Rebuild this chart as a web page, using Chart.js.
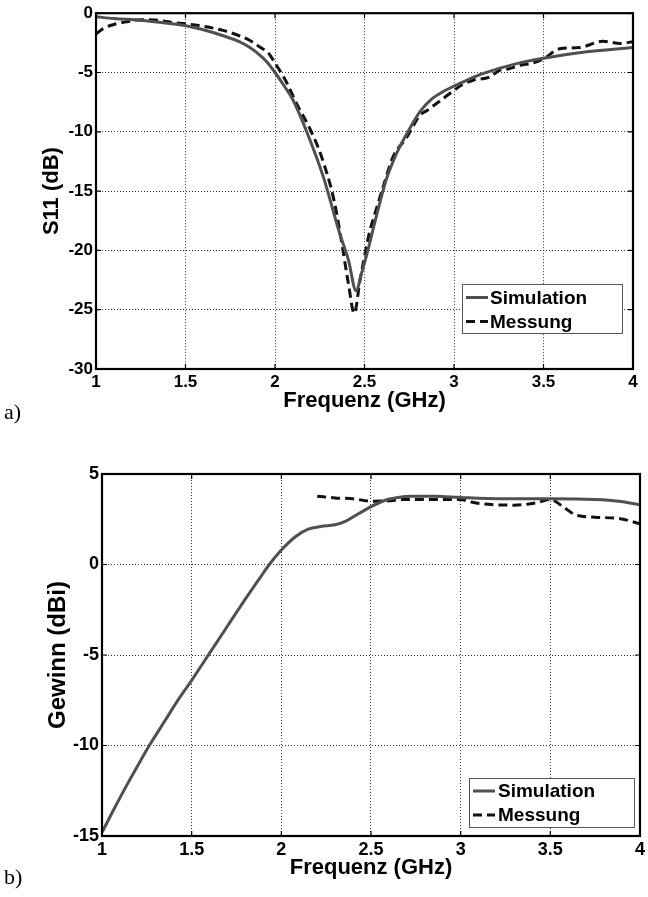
<!DOCTYPE html>
<html><head><meta charset="utf-8">
<script src="https://cdn.jsdelivr.net/npm/chart.js@4/dist/chart.umd.min.js"></script>
<style>
html,body{margin:0;padding:0;background:#fff;width:648px;height:897px;overflow:hidden;}
.wrap{position:absolute;left:0;}
.lbl{position:absolute;left:4px;font-family:"Liberation Serif","Times New Roman",serif;font-size:22px;line-height:22px;color:#000;}
</style></head><body>
<div class="wrap" style="top:0;width:648px;height:420px"><canvas id="c1" width="648" height="420"></canvas></div>
<div class="wrap" style="top:440px;width:648px;height:457px"><canvas id="c2" width="648" height="457"></canvas></div>
<div class="lbl" style="top:401px">a)</div>
<div class="lbl" style="top:866px">b)</div>
<script>
// ---- Data: panel a) S11 ----
const s11SimFreq = [1.0,1.1,1.25,1.4,1.5,1.6,1.71,1.8,1.86,1.92,1.96,2.0,2.05,2.1,2.18,2.27,2.36,2.41,2.453,2.484,2.51,2.57,2.62,2.68,2.75,2.81,2.87,2.94,3.0,3.08,3.16,3.35,3.5,3.72,4.0];
const s11Sim     = [-0.3,-0.45,-0.6,-0.85,-1.05,-1.4,-1.9,-2.4,-2.9,-3.6,-4.2,-5.0,-6.1,-7.3,-10.1,-13.8,-18.5,-20.8,-23.4,-21.9,-20.5,-16.9,-14.1,-11.8,-9.8,-8.3,-7.3,-6.6,-6.15,-5.6,-5.1,-4.25,-3.8,-3.3,-2.9];
const s11MeasFreq = [1.0,1.04,1.1,1.18,1.25,1.35,1.43,1.5,1.6,1.71,1.8,1.86,1.92,1.96,2.0,2.06,2.12,2.2,2.26,2.33,2.37,2.41,2.443,2.475,2.503,2.53,2.54,2.605,2.66,2.735,2.81,2.85,2.885,2.93,3.0,3.05,3.107,3.2,3.257,3.3,3.37,3.44,3.5,3.59,3.7,3.83,3.93,4.0];
const s11Meas     = [-1.75,-1.3,-0.95,-0.7,-0.55,-0.6,-0.8,-0.9,-1.1,-1.45,-1.9,-2.3,-2.9,-3.3,-4.2,-5.7,-7.6,-9.9,-12.1,-15.8,-19.1,-22.8,-25.3,-22.5,-20.3,-18.3,-17.8,-14.6,-12.1,-10.5,-8.6,-8.2,-7.8,-7.3,-6.5,-6.0,-5.65,-5.37,-4.8,-4.7,-4.4,-4.2,-3.85,-3.0,-2.9,-2.37,-2.55,-2.4];
// ---- Data: panel b) Gain ----
const gainSimFreq = [1.0,1.07,1.146,1.2,1.267,1.35,1.42,1.5,1.6,1.7,1.8,1.88,1.933,2.0,2.08,2.15,2.22,2.3,2.36,2.43,2.5,2.58,2.65,2.72,2.86,3.0,3.23,3.5,3.75,3.88,4.0];
const gainSim     = [-14.8,-13.45,-12.05,-11.1,-9.95,-8.65,-7.55,-6.4,-4.9,-3.4,-1.9,-0.75,0.0,0.8,1.55,1.95,2.1,2.2,2.4,2.8,3.2,3.55,3.7,3.77,3.77,3.7,3.63,3.63,3.59,3.5,3.3];
const gainMeasFreq = [2.2,2.3,2.4,2.5,2.6,2.67,2.86,3.0,3.06,3.12,3.3,3.42,3.5,3.57,3.637,3.75,3.88,4.0];
const gainMeas     = [3.77,3.68,3.63,3.5,3.52,3.59,3.59,3.59,3.45,3.35,3.28,3.4,3.59,3.2,2.76,2.61,2.55,2.25];
// ---- Ticks / labels ----
const xTicks = [1,1.5,2,2.5,3,3.5,4];
const xTickLabels = ['1','1.5','2','2.5','3','3.5','4'];
const s11Ticks = [-30,-25,-20,-15,-10,-5,0];
const s11TickLabels = ['-30','-25','-20','-15','-10','-5','0'];
const gainTicks = [-15,-10,-5,0,5];
const gainTickLabels = ['-15','-10','-5','0','5'];
const seriesNames = ['Simulation','Messung'];
const xTitle = 'Frequenz (GHz)';
const s11Title = 'S11 (dB)';
const gainTitle = 'Gewinn (dBi)';

const toPts = (xs, ys) => xs.map((x,i)=>({x, y: ys[i]}));
const FONT = '"Liberation Sans", Arial, sans-serif';

const framePlugin = {
  id: 'frame',
  afterDatasetsDraw(chart) {
    const {ctx, chartArea: a, scales} = chart;
    ctx.save();
    ctx.strokeStyle = '#000'; ctx.lineWidth = 1.2; ctx.setLineDash([]);
    ctx.beginPath();
    scales.x.ticks.forEach(t => {
      const px = scales.x.getPixelForValue(t.value);
      ctx.moveTo(px, a.bottom); ctx.lineTo(px, a.bottom - 5);
      ctx.moveTo(px, a.top); ctx.lineTo(px, a.top + 5);
    });
    scales.y.ticks.forEach(t => {
      const py = scales.y.getPixelForValue(t.value);
      ctx.moveTo(a.left, py); ctx.lineTo(a.left + 5, py);
      ctx.moveTo(a.right, py); ctx.lineTo(a.right - 5, py);
    });
    ctx.stroke();
    ctx.lineWidth = 2.2;
    ctx.strokeRect(a.left, a.top, a.right - a.left, a.bottom - a.top);
    ctx.restore();
  }
};

const boxLegend = {
  id: 'boxLegend',
  afterDraw(chart, args, o) {
    const {ctx, chartArea: a} = chart;
    const x = a.right - o.offRight - o.w, y = a.bottom - o.offBottom - o.h;
    ctx.save();
    ctx.fillStyle = '#fff'; ctx.fillRect(x, y, o.w, o.h);
    ctx.strokeStyle = '#555'; ctx.lineWidth = 1; ctx.setLineDash([]);
    ctx.strokeRect(x + 0.5, y + 0.5, o.w, o.h);
    chart.data.datasets.forEach((ds, i) => {
      const cy = y + o.rowTop + i * o.rowH;
      ctx.beginPath();
      ctx.setLineDash(ds.borderDash || []);
      ctx.strokeStyle = ds.borderColor; ctx.lineWidth = ds.borderWidth;
      ctx.moveTo(x + 4, cy); ctx.lineTo(x + 4 + o.sample, cy); ctx.stroke();
      ctx.setLineDash([]);
      ctx.fillStyle = '#000'; ctx.font = o.font; ctx.textBaseline = 'middle'; ctx.textAlign = 'left';
      ctx.fillText(ds.label, x + o.textX, cy + 1);
    });
    ctx.restore();
  }
};

function makeChart(id, cfg) {
  return new Chart(document.getElementById(id), {
    type: 'line',
    data: {
      datasets: [
        { label: seriesNames[0], data: cfg.sim, borderColor: '#505050', borderWidth: 3, pointRadius: 0, cubicInterpolationMode: 'monotone', fill: false },
        { label: seriesNames[1], data: cfg.meas, borderColor: '#111', borderWidth: 3, borderDash: [9,5], pointRadius: 0, cubicInterpolationMode: 'monotone', fill: false }
      ]
    },
    options: {
      responsive: false, animation: false, events: [],
      layout: { padding: cfg.pad },
      plugins: { legend: { display: false }, tooltip: { enabled: false }, boxLegend: cfg.legend },
      scales: {
        x: {
          type: 'linear', min: 1, max: 4,
          afterBuildTicks: s => { s.ticks = xTicks.map(v => ({value: v})); },
          afterFit: s => { s.height = cfg.xH; },
          ticks: { autoSkip: false, maxRotation: 0, padding: 3, color: '#000',
            font: { family: FONT, size: cfg.tickSize, weight: 'bold' },
            callback: v => xTickLabels[xTicks.indexOf(v)] },
          grid: { color: '#333', lineWidth: 1, drawTicks: false, borderDash: [1,2] },
          border: { display: false, dash: [1,2] },
          title: { display: true, text: xTitle, color: '#000', padding: { top: 0, bottom: cfg.xTitlePad },
            font: { family: FONT, size: 22, weight: 'bold', lineHeight: 1 } }
        },
        y: {
          type: 'linear', min: cfg.yMin, max: cfg.yMax,
          afterBuildTicks: s => { s.ticks = cfg.yTicks.map(v => ({value: v})); },
          afterFit: s => { s.width = cfg.yW; },
          ticks: { autoSkip: false, padding: 3, color: '#000',
            font: { family: FONT, size: cfg.tickSize, weight: 'bold' },
            callback: v => cfg.yLabels[cfg.yTicks.indexOf(v)] },
          grid: { color: '#333', lineWidth: 1, drawTicks: false, borderDash: [1,2] },
          border: { display: false, dash: [1,2] },
          title: { display: true, text: cfg.yTitle, color: '#000', padding: { top: cfg.yTitlePad, bottom: 0 },
            font: { family: FONT, size: cfg.yTitleSize, weight: 'bold', lineHeight: 1 } }
        }
      }
    },
    plugins: [framePlugin, boxLegend]
  });
}

makeChart('c1', {
  sim: toPts(s11SimFreq, s11Sim), meas: toPts(s11MeasFreq, s11Meas),
  pad: { left: 0, right: 15, top: 13, bottom: 0 },
  xH: 51, yW: 96, tickSize: 17, xTitlePad: 8, yTitlePad: 41, yTitleSize: 22,
  yMin: -30, yMax: 0, yTicks: s11Ticks, yLabels: s11TickLabels, yTitle: s11Title,
  legend: { w: 160, h: 49, offRight: 11, offBottom: 36, rowTop: 13.5, rowH: 24, sample: 22, textX: 28,
    font: 'bold 19px ' + FONT }
});
makeChart('c2', {
  sim: toPts(gainSimFreq, gainSim), meas: toPts(gainMeasFreq, gainMeas),
  pad: { left: 0, right: 6, top: 34, bottom: 0 },
  xH: 61, yW: 102, tickSize: 18, xTitlePad: 18, yTitlePad: 46, yTitleSize: 24,
  yMin: -15, yMax: 5, yTicks: gainTicks, yLabels: gainTickLabels, yTitle: gainTitle,
  legend: { w: 165, h: 49, offRight: 6, offBottom: 9, rowTop: 13, rowH: 24, sample: 22, textX: 29,
    font: 'bold 19px ' + FONT }
});
</script>
</body></html>
